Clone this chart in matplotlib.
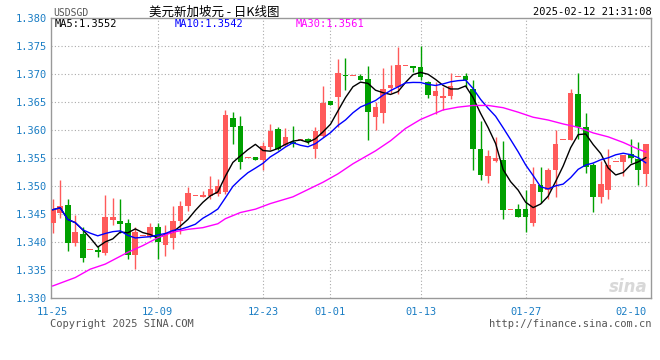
import numpy as np
import pandas as pd
import matplotlib
matplotlib.use('Agg')
import matplotlib.pyplot as plt

# Daily candles, 2024-11-25 .. 2025-02-12 (one per calendar day)
opens = [1.3434, 1.3453, 1.3466, 1.3399, 1.3414, 1.3386, 1.3387, 1.3381, 1.3440, 1.3438,
         1.3434, 1.3378, 1.3412, 1.3410, 1.3427, 1.3395, 1.3408, 1.3437, 1.3465, 1.3482,
         1.3481, 1.3483, 1.3486, 1.3490, 1.3622, 1.3607, 1.3551, 1.3552, 1.3547, 1.3569,
         1.3602, 1.3573, 1.3579, 1.3582, 1.3584, 1.3567, 1.3589, 1.3652, 1.3659, 1.3697,
         1.3696, 1.3696, 1.3691, 1.3624, 1.3631, 1.3676, 1.3677, 1.3714, 1.3714, 1.3712,
         1.3686, 1.3660, 1.3658, 1.3661, 1.3694, 1.3696, 1.3674, 1.3566, 1.3518, 1.3545,
         1.3546, 1.3458, 1.3459, 1.3459, 1.3434, 1.3502, 1.3493, 1.3529, 1.3583, 1.3582,
         1.3664, 1.3605, 1.3538, 1.3481, 1.3494, 1.3544, 1.3543, 1.3558, 1.3548, 1.3521]
highs = [1.3477, 1.3511, 1.3477, 1.3449, 1.3427, 1.3386, 1.3393, 1.3484, 1.3479, 1.3477,
         1.3441, 1.3428, 1.3412, 1.3434, 1.3435, 1.3431, 1.3464, 1.3474, 1.3499, 1.3482,
         1.3492, 1.3519, 1.3513, 1.3636, 1.3633, 1.3625, 1.3551, 1.3552, 1.3579, 1.3611,
         1.3606, 1.3604, 1.3608, 1.3582, 1.3586, 1.3605, 1.3679, 1.3652, 1.3726, 1.3728,
         1.3696, 1.3700, 1.3714, 1.3651, 1.3711, 1.3717, 1.3749, 1.3714, 1.3714, 1.3750,
         1.3688, 1.3686, 1.3677, 1.3702, 1.3694, 1.3702, 1.3690, 1.3616, 1.3565, 1.3588,
         1.3581, 1.3458, 1.3468, 1.3494, 1.3535, 1.3535, 1.3533, 1.3600, 1.3583, 1.3673,
         1.3701, 1.3630, 1.3542, 1.3545, 1.3566, 1.3544, 1.3556, 1.3585, 1.3578, 1.3576]
lows = [1.3416, 1.3443, 1.3385, 1.3394, 1.3364, 1.3386, 1.3373, 1.3377, 1.3430, 1.3416,
        1.3370, 1.3353, 1.3412, 1.3407, 1.3370, 1.3376, 1.3388, 1.3414, 1.3456, 1.3482,
        1.3481, 1.3477, 1.3483, 1.3486, 1.3576, 1.3530, 1.3551, 1.3547, 1.3528, 1.3565,
        1.3565, 1.3571, 1.3570, 1.3582, 1.3576, 1.3550, 1.3587, 1.3644, 1.3606, 1.3672,
        1.3696, 1.3689, 1.3582, 1.3600, 1.3613, 1.3666, 1.3664, 1.3714, 1.3704, 1.3690,
        1.3657, 1.3629, 1.3635, 1.3655, 1.3694, 1.3677, 1.3529, 1.3511, 1.3506, 1.3543,
        1.3442, 1.3458, 1.3445, 1.3418, 1.3429, 1.3470, 1.3478, 1.3480, 1.3583, 1.3582,
        1.3584, 1.3523, 1.3454, 1.3470, 1.3477, 1.3544, 1.3519, 1.3542, 1.3502, 1.3500]
closes = [1.3458, 1.3465, 1.3399, 1.3418, 1.3371, 1.3386, 1.3383, 1.3445, 1.3445, 1.3433,
          1.3378, 1.3418, 1.3412, 1.3428, 1.3401, 1.3413, 1.3437, 1.3465, 1.3487, 1.3482,
          1.3485, 1.3495, 1.3500, 1.3627, 1.3605, 1.3543, 1.3551, 1.3547, 1.3572, 1.3599,
          1.3567, 1.3588, 1.3576, 1.3582, 1.3578, 1.3599, 1.3649, 1.3644, 1.3702, 1.3696,
          1.3696, 1.3690, 1.3633, 1.3641, 1.3674, 1.3680, 1.3716, 1.3714, 1.3711, 1.3694,
          1.3663, 1.3670, 1.3661, 1.3679, 1.3694, 1.3690, 1.3566, 1.3520, 1.3553, 1.3551,
          1.3458, 1.3458, 1.3445, 1.3445, 1.3503, 1.3490, 1.3528, 1.3576, 1.3583, 1.3667,
          1.3606, 1.3534, 1.3481, 1.3503, 1.3538, 1.3544, 1.3556, 1.3550, 1.3529, 1.3576]

# MA30 at these candle indices
ma30_idx = [0, 3, 5, 7, 10, 12, 14, 16, 18, 20, 22, 23, 25, 27, 29, 32, 34, 36, 38, 40,
            43, 45, 47, 49, 52, 54, 56, 58, 60, 62, 64, 66, 68, 70, 72, 74, 76, 78, 79]
ma30_val = [1.3322, 1.3337, 1.3352, 1.3361, 1.3382, 1.3394, 1.3408, 1.3418, 1.3423, 1.3426,
            1.3433, 1.3442, 1.3453, 1.3459, 1.3469, 1.3481, 1.3494, 1.3507, 1.3522, 1.3540,
            1.3563, 1.3581, 1.3603, 1.3619, 1.3636, 1.3641, 1.3644, 1.3644, 1.3640, 1.3632,
            1.3623, 1.3618, 1.3611, 1.3605, 1.3595, 1.3588, 1.3578, 1.3566, 1.3561]

tick_pos = [0, 14, 28, 37, 49, 63, 77]
tick_labels = ['11-25', '12-09', '12-23', '01-01', '01-13', '01-27', '02-10']
grid_pos = [14, 28, 37, 49, 63]
y_ticks = [1.330, 1.335, 1.340, 1.345, 1.350, 1.355, 1.360, 1.365, 1.370, 1.375, 1.380]

W, H = 660, 360
mono = 'DejaVu Sans Mono'
blue_txt = '#1a7dc4'
red = '#ff5a5a'
green = '#00a000'

o = np.array(opens)
h = np.array(highs)
l = np.array(lows)
c = np.array(closes)
x = np.arange(len(c))

ma5 = pd.Series(c).rolling(5, min_periods=1).mean()
ma10 = pd.Series(c).rolling(10, min_periods=1).mean()

fig = plt.figure(figsize=(W / 100, H / 100), dpi=100)
ax = fig.add_axes([50.7 / W, 1 - 298.3 / H, (651 - 50.7) / W, (298.3 - 18) / H])

# grid
for yv in y_ticks[1:-1]:
    ax.axhline(yv, color='#aaaaaa', lw=0.8, ls=(0, (1, 2)), zorder=0)
for gx in grid_pos:
    ax.axvline(gx, color='#aaaaaa', lw=0.8, ls=(0, (1, 2)), zorder=0)

# candles
up = c >= o
cols = np.where(up, red, green)
ax.vlines(x, l, h, colors=cols, lw=1, zorder=2)
body = np.maximum(np.abs(c - o), 0.00018)
ax.bar(x, body, bottom=np.minimum(o, c), width=0.75, color=cols, linewidth=0, zorder=3)

# moving averages
ax.plot(x, ma5, color='black', lw=1, zorder=4)
ax.plot(x, ma10, color='#0000ff', lw=1, zorder=4)
ax.plot(ma30_idx, ma30_val, color='#ff00ff', lw=1, zorder=4)

ax.set_xlim(-0.27, 79.7)
ax.set_ylim(1.330, 1.380)
ax.set_yticks(y_ticks)
ax.set_yticklabels(['%.3f' % v for v in y_ticks], family=mono, fontsize=7.5, color=blue_txt)
ax.set_xticks(tick_pos)
ax.set_xticklabels(tick_labels, family=mono, fontsize=7.5, color=blue_txt)
ax.tick_params(length=0, pad=3)
ax.tick_params(axis='x', pad=6)
for s in ax.spines.values():
    s.set_color('#999999')
    s.set_linewidth(1)

# legend row
fig.text(55 / W, 1 - 24 / H, 'MA5:1.3552', family=mono, fontsize=7.5, color='black', va='center')
fig.text(175 / W, 1 - 24 / H, 'MA10:1.3542', family=mono, fontsize=7.5, color='#0000ff', va='center')
fig.text(296 / W, 1 - 24 / H, 'MA30:1.3561', family=mono, fontsize=7.5, color='#ff00ff', va='center')

# header
fig.text(53 / W, 1 - 13 / H, 'USDSGD', family=mono, fontsize=7, color='#555555', va='center')
fig.text(214 / W, 1 - 12 / H, '美元新加坡元 - 日K线图', family=['Noto Sans CJK SC', 'DejaVu Sans'],
         fontsize=9, color='black', va='center', ha='center')
fig.text(652 / W, 1 - 12 / H, '2025-02-12 21:31:08', family=mono, fontsize=7.5, color='black',
         va='center', ha='right')

# footer
fig.text(50 / W, 1 - 324 / H, 'Copyright 2025 SINA.COM', family=mono, fontsize=7.5, color='#555555', va='center')
fig.text(652 / W, 1 - 324 / H, 'http://finance.sina.com.cn', family=mono, fontsize=7.5, color='#555555',
         va='center', ha='right')

# watermark
fig.text(628 / W, 1 - 287 / H, 'sina', fontsize=12, fontweight='bold', style='italic',
         color='#d8d8d8', va='center', ha='center', zorder=1)

fig.savefig('out.png', dpi=100)
